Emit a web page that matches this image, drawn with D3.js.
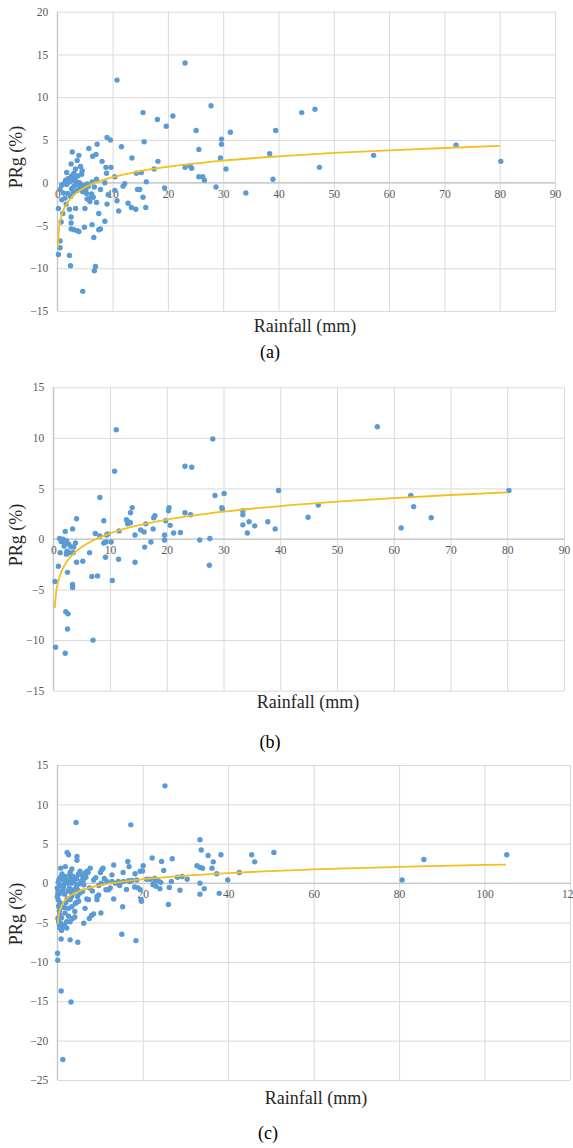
<!DOCTYPE html>
<html>
<head>
<meta charset="utf-8">
<script src="https://cdn.jsdelivr.net/npm/d3@7/dist/d3.min.js"></script>
<style>
  html, body { margin: 0; padding: 0; background: #fff; }
  svg { display: block; }
</style>
</head>
<body>
<svg id="chart" width="573" height="1148"></svg>
<script>
// ---------- DATA ----------
const xTitle = "Rainfall (mm)";
const yTitle = "PRg (%)";
const panelLabels = ["(a)", "(b)", "(c)"];

const xTicksA = [0, 10, 20, 30, 40, 50, 60, 70, 80, 90];
const yTicksA = [-15, -10, -5, 0, 5, 10, 15, 20];
const xTicksB = [0, 10, 20, 30, 40, 50, 60, 70, 80, 90];
const yTicksB = [-15, -10, -5, 0, 5, 10, 15];
const xTicksC = [0, 20, 40, 60, 80, 100, 120];
const yTicksC = [-25, -20, -15, -10, -5, 0, 5, 10, 15];

// [rainfall, PRg]
const pointsA = [
  [23.1,14.0],[10.8,12.0],[27.8,9.0],[15.5,8.2],[18.1,7.4],[20.9,7.8],[19.7,6.6],[25.1,6.1],[39.5,6.1],[31.3,5.9],
  [29.7,5.1],[29.7,4.5],[9.0,5.3],[9.6,5.0],[15.7,4.8],[11.6,4.2],[7.2,4.5],[5.7,4.0],[25.6,3.9],[2.7,3.6],
  [3.9,3.2],[6.4,3.1],[7.0,3.3],[13.5,2.9],[29.5,2.9],[38.4,3.4],[3.6,2.6],[8.1,2.5],[18.2,2.5],[2.5,2.2],
  [4.2,1.9],[8.8,1.8],[9.7,1.8],[23.1,1.8],[24.0,2.0],[24.3,1.7],[17.5,1.6],[30.5,1.6],[1.7,1.2],[4.5,1.4],
  [4.4,1.0],[8.9,1.1],[15.2,1.2],[14.3,1.1],[10.4,0.7],[25.6,0.7],[26.3,0.7],[26.6,0.3],[39.0,0.4],[7.1,0.4],
  [6.3,0.1],[8.6,0.0],[16.1,0.1],[12.2,-0.1],[11.9,-0.4],[19.4,-0.6],[28.7,-0.5],[34.1,-1.2],[7.8,-0.8],[10.4,-0.9],
  [9.2,-1.4],[14.5,-0.8],[14.9,-0.8],[15.5,-1.7],[10.8,-2.1],[12.8,-2.4],[11.1,-3.3],[13.4,-2.9],[14.2,-3.1],[16.0,-2.9],
  [9.0,-2.5],[7.5,-3.6],[8.6,-4.5],[6.3,-4.9],[4.9,-5.2],[7.5,-5.5],[7.8,-5.4],[6.6,-6.4],[6.9,-9.8],[6.7,-10.3],
  [4.6,-12.7],[0.2,-3.0],[0.7,-4.6],[2.5,-4.7],[2.5,-5.4],[3.6,-5.6],[3.0,-5.5],[3.9,-5.7],[3.3,-3.0],[2.5,-4.0],
  [2.2,-3.1],[0.5,-6.8],[0.5,-7.6],[0.2,-8.4],[2.2,-8.5],[2.4,-9.7],[5.0,-3.0],[5.4,-1.9],[5.9,-2.2],[7.1,-2.3],
  [6.2,-1.3],[5.3,-1.25],[5.9,-1.8],[6.5,-1.7],[4.6,-1.05],[1.4,-1.8],[0.8,-2.0],[1.0,-3.6],[1.6,-2.5],[1.1,-1.2],
  [1.9,-1.25],[2.4,-1.6],[0.5,-0.8],[0.8,-0.3],[1.2,-0.1],[1.7,-0.2],[2.3,0.1],[2.8,0.3],[3.2,0.5],[3.5,0.1],
  [4.0,0.0],[2.6,0.8],[3.0,1.1],[3.7,0.8],[3.4,-0.2],[4.1,-0.5],[2.6,-0.7],[3.0,-0.4],[3.6,-0.9],[4.7,-0.3],
  [5.2,-0.7],[5.4,-0.15],[5.6,-0.4],[6.7,-0.5],[2.0,0.5],[1.5,0.3],[3.3,1.6],[2.9,-1.1],
  [44.2,8.2],[46.6,8.6],[72.1,4.4],[57.2,3.2],[47.4,1.8],[80.2,2.5]
];
const trendA = [
  [0.1,-7.6],[0.3,-5.48],[0.5,-4.58],[1,-3.37],[2,-2.16],[3,-1.45],[5,-0.55],[7,0.04],[10,0.66],
  [15,1.37],[20,1.87],[30,2.58],[40,3.08],[50,3.48],[60,3.79],[70,4.06],[80,4.30]
];

const pointsB = [
  [11.1,10.8],[28.1,9.9],[10.8,6.7],[23.2,7.2],[24.4,7.1],[39.7,4.8],[28.5,4.3],[30.1,4.5],[8.2,4.1],[29.7,3.1],
  [29.8,2.95],[13.9,3.1],[20.4,3.1],[20.3,2.8],[13.6,2.6],[23.2,2.6],[24.2,2.4],[33.4,2.8],[33.4,2.4],[17.9,2.3],
  [17.7,2.1],[12.9,1.9],[13.2,1.7],[13.6,1.6],[13.1,1.5],[8.9,1.8],[19.8,1.8],[4.1,2.0],[16.3,1.5],[3.4,1.0],
  [2.1,0.75],[37.8,1.7],[34.5,1.7],[35.5,1.3],[33.4,1.4],[34.2,0.6],[39.1,1.0],[20.6,1.35],[15.4,0.9],[16.0,0.7],
  [17.6,1.0],[11.6,0.8],[21.2,0.6],[22.4,0.65],[14.4,0.4],[19.6,0.4],[7.4,0.55],[8.2,0.3],[9.4,0.4],[9.6,0.5],
  [25.8,-0.1],[27.6,0.05],[19.6,-0.1],[17.2,-0.3],[10.2,-0.3],[8.9,-0.4],[9.3,-0.3],[16.1,-0.8],[1.1,0.05],[1.7,-0.03],
  [1.4,-0.26],[2.0,-0.43],[2.3,-0.16],[2.7,-0.5],[3.1,-0.76],[1.9,-0.7],[2.4,-1.2],[2.9,-1.35],[3.6,-0.8],[3.9,-0.4],
  [1.2,-1.35],[2.3,-1.5],[3.5,-1.35],[4.1,-2.3],[5.2,-2.2],[6.4,-1.35],[9.2,-1.8],[11.5,-2.0],[14.4,-2.3],[27.5,-2.6],
  [0.9,-2.7],[2.5,-3.3],[6.8,-3.7],[7.8,-3.65],[10.4,-4.1],[0.3,-4.2],[3.4,-4.5],[3.4,-4.8],[2.2,-7.2],[2.6,-7.4],
  [2.5,-8.9],[7.0,-10.0],[0.4,-10.7],[2.1,-11.3],
  [57.1,11.1],[80.3,4.8],[63.0,4.3],[63.5,3.2],[46.7,3.35],[44.9,2.15],[66.6,2.1],[61.3,1.1]
];
const trendB = [
  [0.25,-6.85],[0.5,-5.28],[1,-3.93],[2,-2.58],[3,-1.79],[5,-0.79],[7,-0.14],[10,0.56],
  [15,1.35],[20,1.91],[30,2.70],[40,3.26],[50,3.70],[60,4.05],[70,4.35],[80,4.62]
];

const pointsC = [
  [25.2,12.35],[17.2,7.4],[4.4,7.7],[33.4,5.5],[33.7,4.2],[50.7,3.9],[45.5,3.6],[46.2,2.7],[35.3,3.5],[38.3,3.6],
  [36.5,2.7],[36.2,1.9],[32.7,2.2],[33.4,2.0],[34.0,1.9],[37.3,1.2],[42.6,1.35],[39.9,0.4],[33.4,0.0],[34.4,-0.7],
  [33.4,-1.4],[37.9,-1.3],[22.2,3.2],[24.4,2.75],[26.9,3.1],[24.9,1.6],[20.1,2.2],[19.95,1.55],[28.1,0.75],[29.2,0.85],
  [30.4,0.5],[26.7,0.2],[20.9,0.5],[21.7,0.5],[22.8,0.6],[23.6,0.3],[24.2,0.1],[22.4,-0.2],[23.1,-0.4],[24.0,-0.7],
  [22.6,0.0],[26.2,-0.55],[28.7,-0.9],[26.0,-2.7],[19.7,-2.3],
  [2.3,3.9],[2.65,3.6],[4.6,3.4],[4.6,2.9],[1.9,2.1],[7.7,1.9],[6.5,1.3],[7.2,1.35],[10.1,1.35],[10.4,1.7],
  [10.7,1.9],[13.2,2.3],[16.5,2.75],[16.8,2.1],[15.4,1.35],[18.2,1.2],[19.4,1.5],[12.8,1.05],[6.2,-0.2],[8.5,0.4],
  [9.7,-0.3],[10.3,0.0],[11.6,0.2],[12.8,0.2],[13.6,0.0],[14.3,0.2],[15.5,0.2],[16.7,0.3],[17.5,0.35],[18.6,0.4],
  [11.4,-0.85],[12.0,-0.85],[12.4,-0.6],[6.9,-2.0],[7.3,-2.1],[9.3,-1.7],[9.3,-2.1],[9.7,-1.5],[13.2,-2.0],[18.1,-0.5],
  [18.9,-0.6],[19.4,-0.85],[19.6,-2.1],[15.3,-3.0],[10.2,-3.8],[8.0,-4.1],[7.5,-4.5],[8.5,-3.9],[6.5,-3.2],[6.2,-5.1],
  [3.0,-4.9],[3.6,-4.5],[4.1,-4.3],[2.65,-4.2],[3.4,-3.0],[4.1,-3.6],[4.4,-2.5],[0.9,-7.1],[3.0,-7.2],[4.8,-7.5],
  [15.1,-6.5],[18.4,-7.3],[0.05,-8.9],[0.1,-9.8],[0.9,-13.7],[3.2,-15.1],[1.3,-22.4],
  [0.8,1.9],[1.1,1.15],[0.2,0.1],[0.6,-0.25],[1.0,-0.4],[1.4,-0.6],[0.0,-0.6],[0.2,-1.05],[0.5,-1.35],[0.0,-1.7],
  [0.2,-2.1],[0.6,-2.45],[0.3,-2.95],[0.5,-3.5],[0.6,-4.0],[0.15,-4.45],[0.3,-4.9],[0.5,-5.3],[0.6,-5.7],[1.0,-6.0],
  [1.25,-5.6],[1.6,-5.3],[2.2,-4.9],[1.8,-3.8],[2.6,-3.2],[3.0,-2.1],[3.35,-1.7],[2.3,-2.0],[2.0,-2.5],[3.1,-1.05],
  [3.9,-0.85],[4.5,-0.4],[5.1,-0.1],[3.35,0.0],[2.6,0.4],[4.5,0.6],[5.7,1.05],[6.1,0.4],[6.7,0.75],[7.0,1.5],
  [5.3,1.5],[3.7,0.85],[3.0,1.35],[1.8,0.85],[1.4,0.4],[2.2,0.0],[4.75,-1.7],[5.3,-1.25],[5.9,-1.05],
  [1.5,-0.2],[2.0,0.2],[2.8,-0.6],[3.2,0.6],[4.0,0.2],[4.8,-0.9],[5.5,0.2],[0.4,0.5],[0.8,0.8],[1.2,-1.0],
  [1.7,-1.4],[2.5,-1.0],[3.6,-1.3],[4.2,-2.6],[5.0,-2.3],[7.5,-0.6],[8.2,-1.0],[9.0,0.7],[11.0,0.6],[14.6,-0.3],
  [16.2,-0.8],[17.0,0.2],[2.9,1.0],[3.4,1.8],[4.9,1.1],[6.0,0.6],[1.0,-4.4],[1.6,-3.1],[2.2,-5.7],[0.8,-5.1],
  [105.2,3.6],[85.8,3.0],[80.7,0.4]
];
const trendC = [
  [0.12,-5.2],[0.3,-4.2],[0.6,-3.42],[1,-2.85],[2,-2.07],[3,-1.62],[5,-1.05],[7,-0.67],[10,-0.27],
  [15,0.18],[20,0.5],[30,0.96],[40,1.28],[50,1.53],[60,1.74],[70,1.91],[80,2.06],[90,2.19],[105,2.36]
];

// ---------- LAYOUT ----------
const panels = [
  { pts: pointsA, trend: trendA, xt: xTicksA, yt: yTicksA, label: panelLabels[0],
    l: 57.3, r: 555, t: 11.7, b: 311, yTitleY: 157, xTitleX: 305, xTitleY: 332, labX: 270, labY: 358 },
  { pts: pointsB, trend: trendB, xt: xTicksB, yt: yTicksB, label: panelLabels[1],
    l: 53.3, r: 564, t: 387.3, b: 690.7, yTitleY: 535, xTitleX: 308, xTitleY: 708, labX: 270, labY: 748 },
  { pts: pointsC, trend: trendC, xt: xTicksC, yt: yTicksC, label: panelLabels[2],
    l: 57.3, r: 570, t: 765, b: 1080, yTitleY: 914, xTitleX: 316, xTitleY: 1104, labX: 268, labY: 1139 }
];

const svg = d3.select("#chart");
const font = "'Liberation Serif', 'Times New Roman', serif";
const gridColor = "#d9d9d9";
const dotColor = "#5b9bd5";
const trendColor = "#f5bf1e";

panels.forEach(p => {
  const x = d3.scaleLinear().domain([p.xt[0], p.xt[p.xt.length - 1]]).range([p.l, p.r]);
  const y = d3.scaleLinear().domain([p.yt[0], p.yt[p.yt.length - 1]]).range([p.b, p.t]);
  const g = svg.append("g");

  // horizontal gridlines
  g.append("g")
    .attr("transform", `translate(${p.l},0)`)
    .call(d3.axisLeft(y).tickValues(p.yt).tickSize(-(p.r - p.l)).tickFormat(""))
    .call(s => s.select(".domain").remove())
    .call(s => s.selectAll("line").attr("stroke", gridColor).attr("stroke-width", 1));

  // vertical gridlines
  g.append("g")
    .attr("transform", `translate(0,${p.b})`)
    .call(d3.axisBottom(x).tickValues(p.xt).tickSize(-(p.b - p.t)).tickFormat(""))
    .call(s => s.select(".domain").remove())
    .call(s => s.selectAll("line").attr("stroke", gridColor).attr("stroke-width", 1));

  // y axis line at x=0
  g.append("line").attr("x1", x(0)).attr("x2", x(0)).attr("y1", p.t).attr("y2", p.b)
    .attr("stroke", "#bfbfbf").attr("stroke-width", 1);
  // x axis line at y=0
  g.append("line").attr("x1", p.l).attr("x2", p.r).attr("y1", y(0)).attr("y2", y(0))
    .attr("stroke", "#bfbfbf").attr("stroke-width", 1);

  // y tick labels
  g.append("g")
    .attr("transform", `translate(${p.l},0)`)
    .call(d3.axisLeft(y).tickValues(p.yt).tickSize(0).tickPadding(9))
    .call(s => s.select(".domain").remove())
    .call(s => s.selectAll("text").attr("font-family", font).attr("font-size", 11.5).attr("fill", "#595959"));

  // x tick labels (positioned under the zero line)
  g.append("g")
    .attr("transform", `translate(0,${y(0)})`)
    .call(d3.axisBottom(x).tickValues(p.xt).tickSize(0).tickPadding(7))
    .call(s => s.select(".domain").remove())
    .call(s => s.selectAll("text").attr("font-family", font).attr("font-size", 11.5).attr("fill", "#595959"));

  // dots
  g.append("g").selectAll("circle").data(p.pts).join("circle")
    .attr("cx", d => x(d[0])).attr("cy", d => y(d[1])).attr("r", 2.7)
    .attr("fill", dotColor);

  // trend line
  g.append("path").datum(p.trend)
    .attr("d", d3.line().x(d => x(d[0])).y(d => y(d[1])).curve(d3.curveMonotoneX))
    .attr("fill", "none").attr("stroke", trendColor).attr("stroke-width", 1.8);

  // titles
  g.append("text").attr("x", p.xTitleX).attr("y", p.xTitleY).attr("text-anchor", "middle")
    .attr("font-family", font).attr("font-size", 18).attr("fill", "#262626").text(xTitle);
  g.append("text").attr("transform", `translate(22,${p.yTitleY}) rotate(-90)`).attr("text-anchor", "middle")
    .attr("font-family", font).attr("font-size", 18).attr("fill", "#262626").text(yTitle);
  g.append("text").attr("x", p.labX).attr("y", p.labY).attr("text-anchor", "middle")
    .attr("font-family", font).attr("font-size", 18).attr("fill", "#000").text(p.label);
});
</script>
</body>
</html>
